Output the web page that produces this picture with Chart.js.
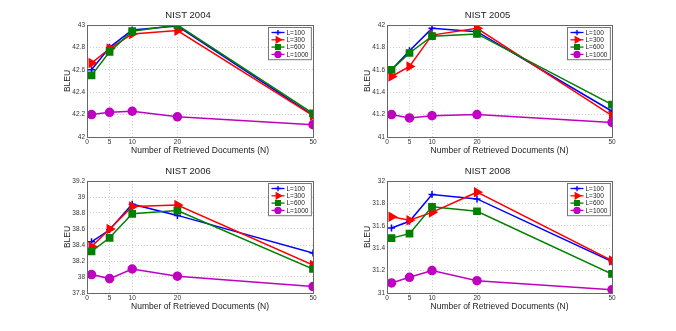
<!DOCTYPE html>
<html>
<head>
<meta charset="utf-8">
<script src="https://cdn.jsdelivr.net/npm/chart.js@4.4.1/dist/chart.umd.min.js"></script>
<style>
  body { margin: 0; background: #fff; }
  #wrap { position: relative; width: 676px; height: 331px; overflow: hidden; }
  #wrap canvas { position: absolute; }
</style>
</head>
<body>
<div id="wrap">
  <canvas id="c2004" width="338" height="165" style="left:0;top:0"></canvas>
  <canvas id="c2005" width="338" height="165" style="left:300px;top:0"></canvas>
  <canvas id="c2006" width="338" height="165" style="left:0;top:156px"></canvas>
  <canvas id="c2008" width="338" height="165" style="left:300px;top:156px"></canvas>
</div>
<script>
const FONT = '"Liberation Sans", Arial, Helvetica, sans-serif';

// x values (number of retrieved documents) and x tick labels
const xDocs = [1, 5, 10, 20, 50];
const xTicks = [0, 5, 10, 20, 50];
const seriesLabels = ['L=100', 'L=300', 'L=600', 'L=1000'];

// NIST 2004
const nist2004_L100 = [42.60, 42.80, 42.955, 42.99, 42.195];
const nist2004_L300 = [42.66, 42.79, 42.92, 42.95, 42.19];
const nist2004_L600 = [42.55, 42.76, 42.945, 43.00, 42.21];
const nist2004_L1000 = [42.20, 42.22, 42.23, 42.18, 42.11];

// NIST 2005
const nist2005_L100 = [41.60, 41.77, 41.97, 41.94, 41.23];
const nist2005_L300 = [41.54, 41.63, 41.91, 41.97, 41.19];
const nist2005_L600 = [41.60, 41.75, 41.90, 41.92, 41.29];
const nist2005_L1000 = [41.20, 41.17, 41.19, 41.20, 41.13];

// NIST 2006
const nist2006_L100 = [38.44, 38.59, 38.91, 38.77, 38.30];
const nist2006_L300 = [38.38, 38.60, 38.88, 38.90, 38.15];
const nist2006_L600 = [38.32, 38.49, 38.79, 38.83, 38.10];
const nist2006_L1000 = [38.03, 37.98, 38.10, 38.01, 37.88];

// NIST 2008
const nist2008_L100 = [31.58, 31.64, 31.88, 31.84, 31.28];
const nist2008_L300 = [31.68, 31.65, 31.72, 31.90, 31.29];
const nist2008_L600 = [31.49, 31.53, 31.77, 31.73, 31.17];
const nist2008_L1000 = [31.09, 31.14, 31.20, 31.11, 31.03];

const styles = [
    { color: '#0000ff', pointStyle: 'cross', radius: 3.5, rotation: 0 },
    { color: '#ff0000', pointStyle: 'triangle', radius: 4.6, rotation: 90 },
    { color: '#007f00', pointStyle: 'rect', radius: 4.4, rotation: 0 },
    { color: '#c000c0', pointStyle: 'circle', radius: 4, rotation: 0 }
];

// axes box + legend inside the plot (matlab look)
const boxLegendPlugin = {
    id: 'boxLegend',
    afterDraw(chart) {
        const ctx = chart.ctx;
        const a = chart.chartArea;
        ctx.save();
        ctx.strokeStyle = '#666';
        ctx.lineWidth = 1;
        ctx.strokeRect(Math.round(a.left) + 0.5, Math.round(a.top) + 0.5,
            Math.round(a.right - a.left), Math.round(a.bottom - a.top));

        ctx.font = '6.5px ' + FONT;
        let tw = 0;
        chart.data.datasets.forEach(ds => { tw = Math.max(tw, ctx.measureText(ds.label).width); });
        const w = 18 + tw + 3;
        const rowH = 7.3;
        const h = 4 * rowH + 3;
        const bx = Math.round(a.right - 2 - w) + 0.5;
        const by = Math.round(a.top + 2) + 0.5;
        ctx.fillStyle = '#fff';
        ctx.fillRect(bx, by, w, h);
        ctx.strokeStyle = '#777';
        ctx.strokeRect(bx, by, w, h);

        chart.data.datasets.forEach((ds, i) => {
            const y = by + 5 + i * rowH;
            ctx.strokeStyle = ds.borderColor;
            ctx.lineWidth = 1.3;
            ctx.beginPath();
            ctx.moveTo(bx + 3, y);
            ctx.lineTo(bx + 16, y);
            ctx.stroke();
            ctx.fillStyle = ds.backgroundColor;
            Chart.helpers.drawPoint(ctx, {
                pointStyle: ds.pointStyle,
                rotation: ds.pointRotation,
                radius: ds.pointRadius * 0.75,
                borderWidth: 1.2
            }, bx + 9.5, y);
            ctx.fillStyle = '#222';
            ctx.textBaseline = 'middle';
            ctx.textAlign = 'left';
            ctx.fillText(ds.label, bx + 18, y + 0.5);
        });
        ctx.restore();
    }
};

function makeChart(id, title, yMin, yMax, series, rightPad) {
    const ctx = document.getElementById(id).getContext('2d');
    return new Chart(ctx, {
        type: 'line',
        data: {
            datasets: series.map((vals, i) => ({
                label: seriesLabels[i],
                data: xDocs.map((x, j) => ({ x: x, y: vals[j] })),
                borderColor: styles[i].color,
                backgroundColor: styles[i].color,
                borderWidth: 1.5,
                pointStyle: styles[i].pointStyle,
                pointRadius: styles[i].radius,
                pointRotation: styles[i].rotation,
                pointBorderWidth: 1.5,
                tension: 0,
                order: 3 - i
            }))
        },
        options: {
            responsive: false,
            animation: false,
            events: [],
            layout: {
                autoPadding: false,
                padding: { top: 0, bottom: 0, left: 63, right: rightPad }
            },
            plugins: {
                legend: { display: false },
                tooltip: { enabled: false },
                title: {
                    display: true,
                    text: title,
                    color: '#222',
                    font: { family: FONT, size: 9.5, weight: 'normal' },
                    padding: { top: 10, bottom: 3.6 }
                }
            },
            scales: {
                x: {
                    type: 'linear',
                    min: 0,
                    max: 50,
                    afterBuildTicks: scale => { scale.ticks = xTicks.map(v => ({ value: v })); },
                    afterFit: scale => { scale.height = 28; },
                    ticks: {
                        color: '#333',
                        padding: 1.5,
                        maxRotation: 0,
                        font: { family: FONT, size: 6.5 }
                    },
                    grid: { color: '#c4c4c4', lineWidth: 0.8, drawTicks: false },
                    border: { display: false, dash: [1, 2] },
                    title: {
                        display: true,
                        text: 'Number of Retrieved Documents (N)',
                        color: '#222',
                        font: { family: FONT, size: 8.5 },
                        padding: { top: 0, bottom: 8.9 }
                    }
                },
                y: {
                    min: yMin,
                    max: yMax,
                    afterFit: scale => { scale.width = 24; },
                    ticks: {
                        stepSize: 0.2,
                        color: '#333',
                        padding: 2,
                        font: { family: FONT, size: 6.5 },
                        callback: v => String(+v.toFixed(1))
                    },
                    grid: { color: '#c4c4c4', lineWidth: 0.8, drawTicks: false },
                    border: { display: false, dash: [1, 2] },
                    title: {
                        display: true,
                        text: 'BLEU',
                        color: '#222',
                        font: { family: FONT, size: 8.5 },
                        padding: { top: 0, bottom: 0 }
                    }
                }
            }
        },
        plugins: [boxLegendPlugin]
    });
}

document.addEventListener('DOMContentLoaded', () => {
    makeChart('c2004', 'NIST 2004', 42, 43,
        [nist2004_L100, nist2004_L300, nist2004_L600, nist2004_L1000], 25);
    makeChart('c2005', 'NIST 2005', 41, 42,
        [nist2005_L100, nist2005_L300, nist2005_L600, nist2005_L1000], 26);
    makeChart('c2006', 'NIST 2006', 37.8, 39.2,
        [nist2006_L100, nist2006_L300, nist2006_L600, nist2006_L1000], 25);
    makeChart('c2008', 'NIST 2008', 31, 32,
        [nist2008_L100, nist2008_L300, nist2008_L600, nist2008_L1000], 26);
});
</script>
</body>
</html>
